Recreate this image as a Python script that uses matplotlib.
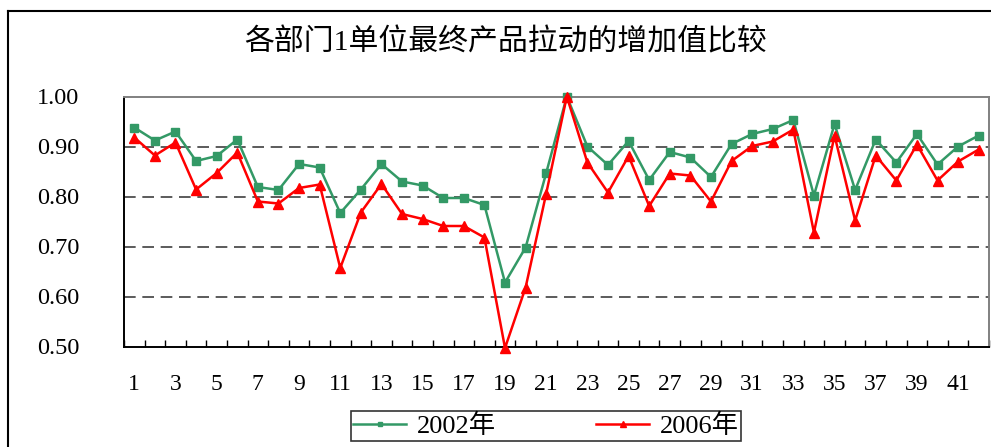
import numpy as np
import matplotlib.pyplot as plt
from matplotlib.lines import Line2D

# data
sectors = np.arange(1, 43)
y2002 = [0.938, 0.912, 0.930, 0.871, 0.881, 0.914, 0.819, 0.813, 0.865, 0.858,
         0.767, 0.814, 0.865, 0.830, 0.822, 0.797, 0.797, 0.783, 0.628, 0.698,
         0.847, 1.000, 0.900, 0.863, 0.911, 0.833, 0.889, 0.878, 0.839, 0.905,
         0.925, 0.935, 0.953, 0.802, 0.945, 0.813, 0.914, 0.868, 0.925, 0.864,
         0.900, 0.922]
y2006 = [0.918, 0.882, 0.908, 0.814, 0.847, 0.888, 0.790, 0.786, 0.817, 0.824,
         0.657, 0.768, 0.825, 0.765, 0.755, 0.741, 0.741, 0.718, 0.497, 0.618,
         0.806, 1.000, 0.868, 0.808, 0.881, 0.781, 0.846, 0.842, 0.790, 0.871,
         0.901, 0.910, 0.934, 0.728, 0.922, 0.752, 0.882, 0.832, 0.904, 0.832,
         0.870, 0.894]
labels = ['2002年', '2006年']
title = '各部门1单位最终产品拉动的增加值比较'

fonts = ['Liberation Serif', 'Noto Sans CJK SC']
plt.rcParams['font.family'] = fonts

W, H = 991, 447
fig = plt.figure(figsize=(W / 100, H / 100), dpi=100)
ax = fig.add_axes([124 / W, 1 - 346.5 / H, (989 - 124) / W, 250 / H])

ax.plot(sectors, y2002, color='#339966', lw=1.8, marker='s', ms=5.5,
        clip_on=False, zorder=3, label=labels[0])
ax.plot(sectors, y2006, color='#ff0000', lw=1.8, marker='^', ms=6.5,
        clip_on=False, zorder=4, label=labels[1])

ax.set_xlim(0.5, 42.5)
ax.set_ylim(0.5, 1.0)

# dashed grid lines
for g in [0.6, 0.7, 0.8, 0.9]:
    ax.axhline(g, color='#404040', lw=1.2, dashes=(7, 4), zorder=1)

ax.set_yticks([0.5, 0.6, 0.7, 0.8, 0.9, 1.0])
ax.set_yticklabels(['%.2f' % v for v in ax.get_yticks()])
ax.tick_params(axis='y', length=0, pad=32, labelsize=17.5)

# ticks between categories, labels on every other category
ax.set_xticks(np.arange(0.5, 43, 1))
ax.set_xticklabels([])
ax.set_xticks(sectors[::2], minor=True)
ax.set_xticklabels([str(s) for s in sectors[::2]], minor=True)
ax.tick_params(axis='x', which='major', direction='in', length=5, width=1)
ax.tick_params(axis='x', which='minor', length=0, pad=20, labelsize=17)

for s in ['left', 'bottom']:
    ax.spines[s].set_color('black')
    ax.spines[s].set_linewidth(1.4)
for s in ['top', 'right']:
    ax.spines[s].set_color('#808080')
    ax.spines[s].set_linewidth(1.4)

fig.text(506 / W, 1 - 42 / H, title, ha='center', va='center', fontsize=21.5)

leg = fig.legend(loc='upper center', bbox_to_anchor=(546 / W, 1 - 411 / H), ncol=2,
                 fontsize=19, frameon=True, fancybox=False, edgecolor='black',
                 handlelength=2.0, columnspacing=3.8, borderpad=0.1,
                 borderaxespad=0, handletextpad=0.4, markerscale=0.6)
leg.get_frame().set_linewidth(1.2)

# outer chart border (left and top visible)
fig.add_artist(Line2D([8 / W, 8 / W], [0, 1 - 11 / H], color='black', lw=1.5))
fig.add_artist(Line2D([8 / W, 1], [1 - 11 / H, 1 - 11 / H], color='black', lw=1.5))

fig.savefig('out.png', dpi=100)
